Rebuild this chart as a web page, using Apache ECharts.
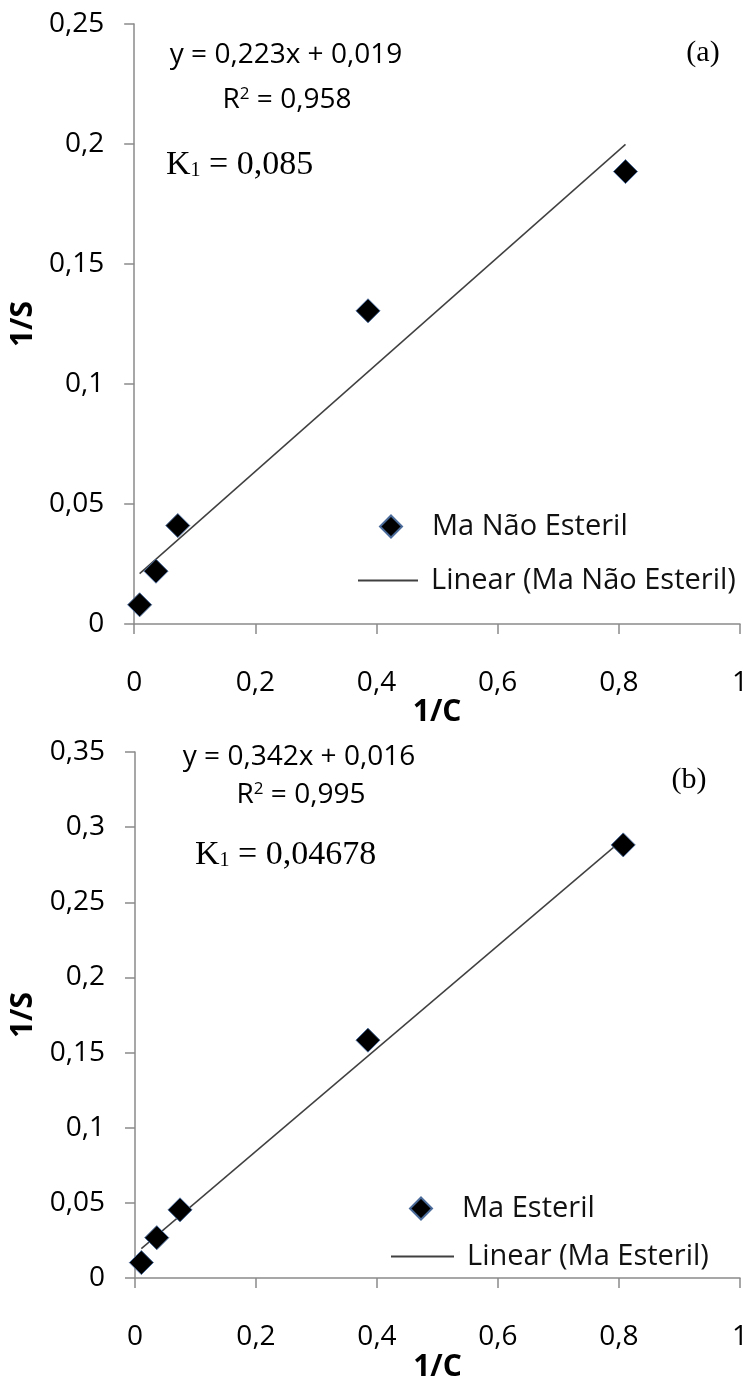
<!DOCTYPE html>
<html>
<head>
<meta charset="utf-8">
<script src="https://cdn.jsdelivr.net/npm/echarts@6/dist/echarts.min.js"></script>
<style>
html,body{margin:0;padding:0;background:#fff;}
#c{width:751px;height:1383px;}
</style>
</head>
<body>
<div id="c"></div>
<script>
// ---- data ----
const invC_A = [0.009, 0.036, 0.072, 0.386, 0.811];
const invS_A = [0.008, 0.022, 0.041, 0.1305, 0.1885];
const invC_B = [0.0105, 0.036, 0.0744, 0.385, 0.807];
const invS_B = [0.0103, 0.0269, 0.0454, 0.1583, 0.2882];
const seriesNames = ['Ma Não Esteril', 'Ma Esteril'];
const trendNames = ['Linear (Ma Não Esteril)', 'Linear (Ma Esteril)'];
const slopes = [0.223, 0.342];
const intercepts = [0.019, 0.016];
const eqTexts = ['y = 0,223x + 0,019', 'y = 0,342x + 0,016'];
const r2Texts = [' = 0,958', ' = 0,995'];
const kTexts = [' = 0,085', ' = 0,04678'];
const panelTags = ['(a)', '(b)'];
const yMax = [0.25, 0.35];
const xTickStep = 0.2;
const yTickStep = 0.05;

const chart = echarts.init(document.getElementById('c'), null, {renderer: 'canvas'});
const sans = 'Open Sans';
const serif = 'Liberation Serif';
const fmt = v => String(+(+v).toFixed(2)).replace('.', ',');

function pairs(xs, ys){ return xs.map((x,i)=>[x, ys[i]]); }
function trend(xs, k){
  const lo = Math.min(...xs), hi = Math.max(...xs);
  return [[lo, slopes[k]*lo + intercepts[k]], [hi, slopes[k]*hi + intercepts[k]]];
}

const axisCol = '#8a8a8a';
function xAxis(gi, gap){
  return {
    type:'value', gridIndex: gi, min:0, max:1, interval:xTickStep,
    name:'1/C', nameLocation:'middle', nameGap:gap,
    nameTextStyle:{fontFamily:sans, fontWeight:'bold', fontSize:30, color:'#000'},
    axisLine:{show:true, onZero:false, lineStyle:{color:axisCol, width:1.5}},
    axisTick:{show:true, length:10, lineStyle:{color:axisCol, width:1.5}},
    axisLabel:{fontFamily:sans, fontSize:28, color:'#000', margin:45, formatter:fmt},
    splitLine:{show:false}
  };
}
function yAxis(gi, max){
  return {
    type:'value', gridIndex: gi, min:0, max:max, interval:yTickStep,
    name:'1/S', nameLocation:'middle', nameGap:85, nameRotate:90,
    nameTextStyle:{fontFamily:sans, fontWeight:'bold', fontSize:30, color:'#000'},
    axisLine:{show:true, lineStyle:{color:axisCol, width:1.5}},
    axisTick:{show:true, length:10, lineStyle:{color:axisCol, width:1.5}},
    axisLabel:{fontFamily:sans, fontSize:28, color:'#000', margin:30, formatter:fmt},
    splitLine:{show:false}
  };
}
function scatter(name, gi, xs, ys){
  return {
    type:'scatter', name:name, xAxisIndex:gi, yAxisIndex:gi,
    data: pairs(xs, ys), symbol:'diamond', symbolSize:24,
    itemStyle:{color:'#000', borderColor:'#4a6a9a', borderWidth:1, opacity:1},
    z:3
  };
}
function line(name, gi, xs, k){
  return {
    type:'line', name:name, xAxisIndex:gi, yAxisIndex:gi,
    data: trend(xs, k), symbol:'none', showSymbol:false,
    lineStyle:{color:'#404040', width:1.5}, itemStyle:{color:'#404040'},
    z:2, silent:true, animation:false
  };
}
const legendText = {fontFamily:sans, fontSize:29, color:'#111'};
function legendSym(k, left, top){
  return {
    left:left, top:top, data:[{name:seriesNames[k], icon:'diamond'}],
    itemWidth:22, itemHeight:22,
    textStyle:Object.assign({padding:[0,0,0,25]}, legendText),
    selectedMode:false
  };
}
function legendLine(k, left, top, w){
  return {
    left:left, top:top, data:[{name:trendNames[k], icon:'rect'}],
    itemWidth:w, itemHeight:2,
    itemStyle:{color:'#404040'},
    textStyle:Object.assign({padding:[0,0,0,8]}, legendText),
    selectedMode:false
  };
}
function richR2(x, y, k){
  return {type:'text', x:x, y:y, style:{
    text:'{a|R}{s|2}{a|'+r2Texts[k]+'}',
    rich:{a:{fontFamily:sans, fontSize:28, fill:'#000'}, s:{fontFamily:sans, fontSize:17, fill:'#000', verticalAlign:'top', padding:[0,0,12,0]}},
    textAlign:'center', textVerticalAlign:'middle'}};
}
function richK(x, y, k){
  return {type:'text', x:x, y:y, style:{
    text:'{a|K}{s|1}{a|'+kTexts[k]+'}',
    rich:{a:{fontFamily:serif, fontSize:34, fill:'#000'}, s:{fontFamily:serif, fontSize:20, fill:'#000', padding:[12,0,0,0]}},
    textVerticalAlign:'middle'}};
}
function plain(x, y, text, font, size){
  return {type:'text', x:x, y:y, style:{text:text, fontFamily:font, fontSize:size, fill:'#000', textAlign:'center', textVerticalAlign:'middle'}};
}

chart.setOption({
  animation:false,
  backgroundColor:'#fff',
  grid:[
    {left:134, right:11, top:24, height:600, containLabel:false},
    {left:135, right:11, top:752, height:543, containLabel:false}
  ],
  xAxis:[xAxis(0, 64), xAxis(1, 60)],
  yAxis:[yAxis(0, yMax[0]), yAxis(1, yMax[1])],
  legend:[
    legendSym(0, 374, 507), legendLine(0, 353, 561, 60),
    legendSym(1, 404, 1189), legendLine(1, 386, 1237, 63)
  ],
  series:[
    scatter(seriesNames[0], 0, invC_A, invS_A),
    line(trendNames[0], 0, invC_A, 0),
    scatter(seriesNames[1], 1, invC_B, invS_B),
    line(trendNames[1], 1, invC_B, 1)
  ],
  graphic:[
    plain(286, 55, eqTexts[0], sans, 28),
    richR2(287, 100, 0),
    richK(166, 165, 0),
    plain(703, 53, panelTags[0], serif, 30),
    plain(299, 757, eqTexts[1], sans, 28),
    richR2(301, 795, 1),
    richK(195, 855, 1),
    plain(689, 780, panelTags[1], serif, 30)
  ]
});
</script>
</body>
</html>
